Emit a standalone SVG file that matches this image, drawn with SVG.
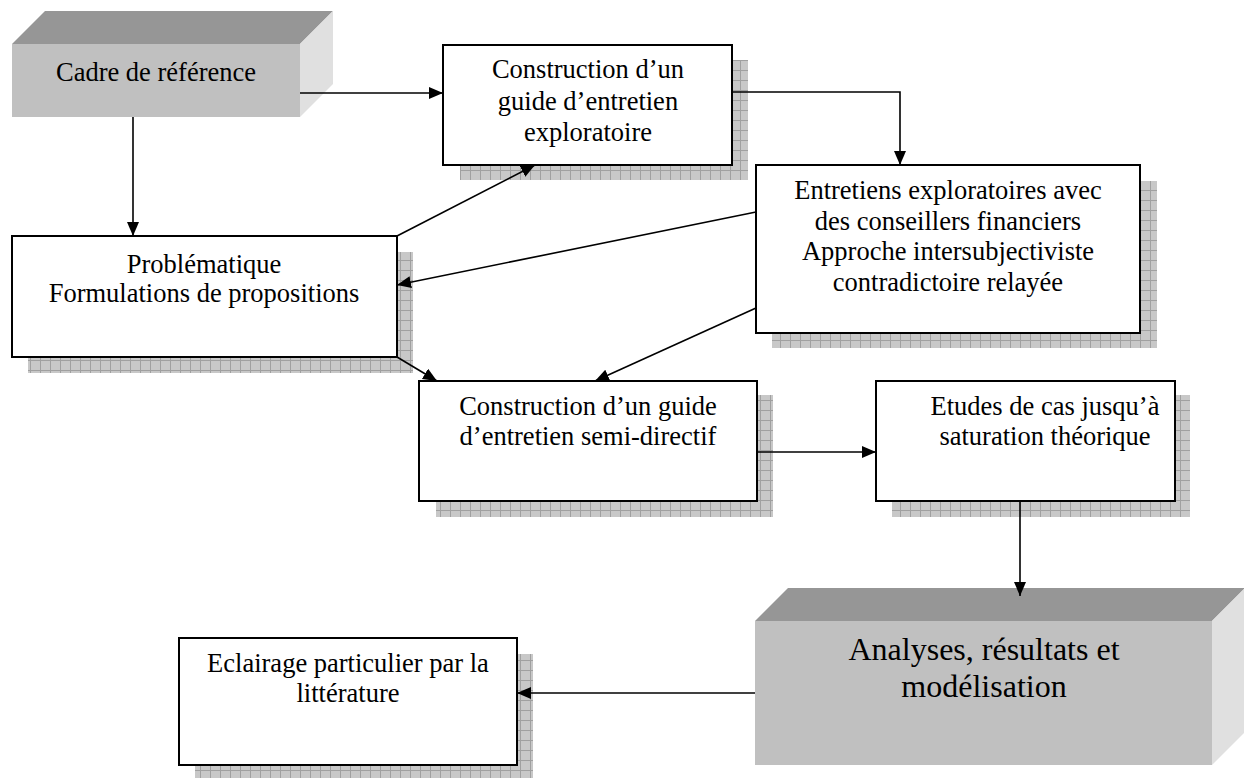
<svg xmlns="http://www.w3.org/2000/svg" width="1244" height="778" viewBox="0 0 1244 778">
<style>
.box{fill:#fff;stroke:#000;stroke-width:2}
.sh{fill:url(#grid)}
.front{fill:#c0c0c0}
.top{fill:#969696}
.side{fill:#e0e0e0}
.t{font-family:"Liberation Serif","Times New Roman",serif;font-size:26.5px;fill:#000;text-anchor:middle}
.tb{font-family:"Liberation Serif","Times New Roman",serif;font-size:32px;fill:#000;text-anchor:middle}
.c{fill:none;stroke:#000;stroke-width:1.6}
</style>
<defs>
<pattern id="grid" width="10" height="10" patternUnits="userSpaceOnUse">
<rect width="10" height="10" fill="#c8c8c8"/>
<path d="M0.5,0 V10 M0,0.5 H10" stroke="#a0a0a0" stroke-width="1"/>
</pattern>
<marker id="arr" markerUnits="userSpaceOnUse" markerWidth="16" markerHeight="14" refX="14" refY="6" orient="auto">
<path d="M0,0 L14,6 L0,12 z" fill="#000"/>
</marker>
</defs>
<rect width="1244" height="778" fill="#fff"/>

<g id="cadre">
<polygon class="top" points="12,44 45,11 333,11 300,44"/>
<polygon class="side" points="300,44 333,11 333,84 300,117"/>
<rect class="front" x="12" y="44" width="288" height="73"/>
<text class="t" x="156" y="81">Cadre de référence</text>
</g>

<g id="construction-exploratoire">
<rect class="sh" x="460" y="60" width="288" height="120"/>
<rect class="box" x="443" y="45" width="289" height="120"/>
<text class="t" x="588" y="78">Construction d’un</text>
<text class="t" x="588" y="110">guide d’entretien</text>
<text class="t" x="588" y="141">exploratoire</text>
</g>

<g id="entretiens">
<rect class="sh" x="772" y="181" width="385" height="167"/>
<rect class="box" x="756" y="165" width="384" height="168"/>
<text class="t" x="948" y="199">Entretiens exploratoires avec</text>
<text class="t" x="948" y="230">des conseillers financiers</text>
<text class="t" x="948" y="260">Approche intersubjectiviste</text>
<text class="t" x="948" y="291">contradictoire relayée</text>
</g>

<g id="problematique">
<rect class="sh" x="28" y="252" width="385" height="121"/>
<rect class="box" x="12" y="236" width="385" height="121"/>
<text class="t" x="204" y="273">Problématique</text>
<text class="t" x="204" y="302">Formulations de propositions</text>
</g>

<g id="construction-semi-directif">
<rect class="sh" x="436" y="395" width="337" height="122"/>
<rect class="box" x="419" y="381" width="338" height="120"/>
<text class="t" x="588" y="415">Construction d’un guide</text>
<text class="t" x="588" y="445">d’entretien semi-directif</text>
</g>

<g id="etudes">
<rect class="sh" x="892" y="395" width="298" height="122"/>
<rect class="box" x="876" y="381" width="299" height="120"/>
<text class="t" x="1045" y="415">Etudes de cas jusqu’à</text>
<text class="t" x="1045" y="445">saturation théorique</text>
</g>

<g id="analyses">
<polygon class="top" points="755,621 788,588 1245,588 1212,621"/>
<polygon class="side" points="1212,621 1245,588 1245,732 1212,765"/>
<rect class="front" x="755" y="621" width="457" height="144"/>
<text class="tb" x="984" y="660">Analyses, résultats et</text>
<text class="tb" x="984" y="697">modélisation</text>
</g>

<g id="eclairage">
<rect class="sh" x="195" y="654" width="338" height="130"/>
<rect class="box" x="179" y="638" width="338" height="127"/>
<text class="t" x="348" y="672">Eclairage particulier par la</text>
<text class="t" x="348" y="702">littérature</text>
</g>

<g id="connectors">
<path class="c" d="M300,93 L443,93" marker-end="url(#arr)"/>
<path class="c" d="M133,117 L133,236" marker-end="url(#arr)"/>
<path class="c" d="M732,92 L900,92 L900,165" marker-end="url(#arr)"/>
<path class="c" d="M397,236 L535,165" marker-end="url(#arr)"/>
<path class="c" d="M756,212 L397,285" marker-end="url(#arr)"/>
<path class="c" d="M756,308 L595,381" marker-end="url(#arr)"/>
<path class="c" d="M397,357 L437,381" marker-end="url(#arr)"/>
<path class="c" d="M757,452 L876,452" marker-end="url(#arr)"/>
<path class="c" d="M1020,501 L1020,596" marker-end="url(#arr)"/>
<path class="c" d="M755,693 L517,693" marker-end="url(#arr)"/>
</g>
</svg>
